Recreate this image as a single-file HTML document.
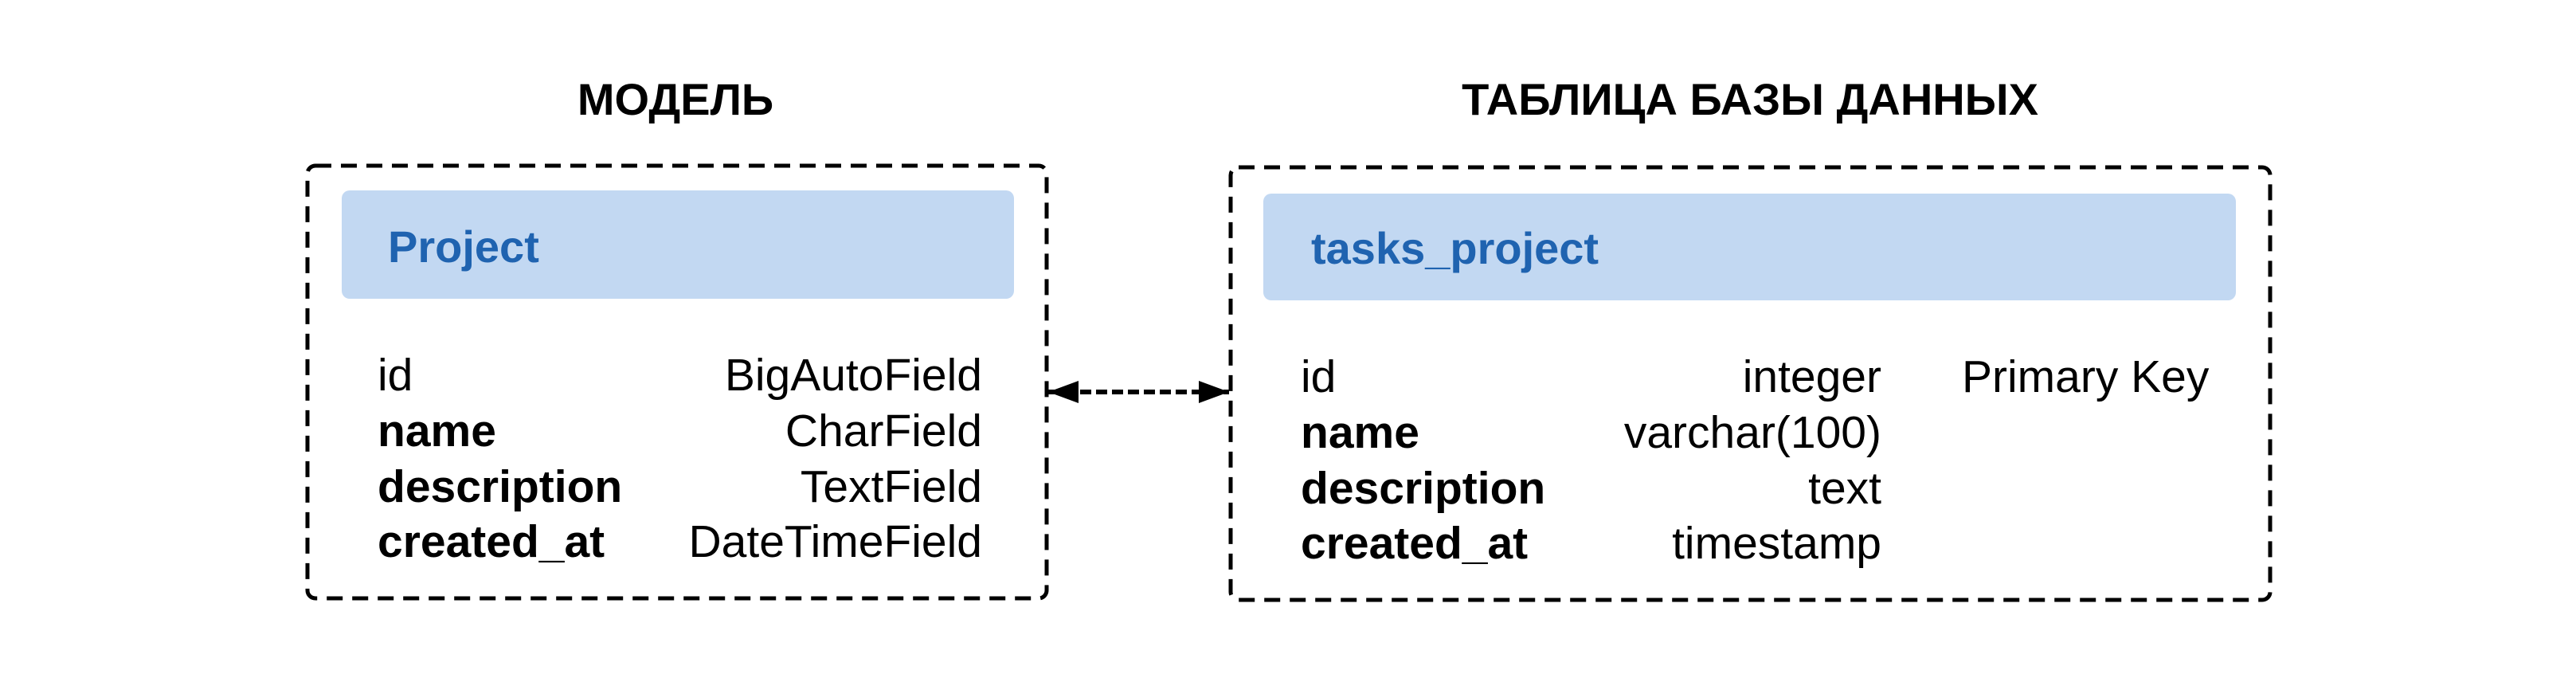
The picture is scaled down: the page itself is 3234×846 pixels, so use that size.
<!DOCTYPE html>
<html><head><meta charset="utf-8"><style>
html,body{margin:0;padding:0;background:#fff;}
svg{display:block;}
text{font-family:"Liberation Sans",sans-serif;}
</style></head><body>
<svg width="3234" height="846" viewBox="0 0 3234 846" xmlns="http://www.w3.org/2000/svg">
<text x="848" y="144" font-size="56" font-weight="bold" text-anchor="middle">МОДЕЛЬ</text>
<text x="2197" y="144" font-size="56" font-weight="bold" text-anchor="middle">ТАБЛИЦА БАЗЫ ДАННЫХ</text>

<rect x="386" y="208" width="928" height="543" rx="10" fill="none" stroke="#000" stroke-width="5" stroke-dasharray="20,12"/>
<rect x="429" y="239" width="844" height="136" rx="10" fill="#c2d8f2"/>
<text x="487" y="329" font-size="56" font-weight="bold" fill="#1f63b0">Project</text>
<g font-size="57">
<text x="474" y="490">id</text>
<text x="474" y="560" font-weight="bold">name</text>
<text x="474" y="630" font-weight="bold">description</text>
<text x="474" y="699" font-weight="bold">created_at</text>
<g text-anchor="end">
<text x="1233" y="490">BigAutoField</text>
<text x="1233" y="560">CharField</text>
<text x="1233" y="630">TextField</text>
<text x="1233" y="699">DateTimeField</text>
</g>
</g>

<rect x="1545" y="210" width="1305" height="543" rx="10" fill="none" stroke="#000" stroke-width="5" stroke-dasharray="20,12"/>
<rect x="1586" y="243" width="1221" height="134" rx="10" fill="#c2d8f2"/>
<text x="1646" y="331" font-size="56" font-weight="bold" fill="#1f63b0">tasks_project</text>
<g font-size="57">
<text x="1633" y="492">id</text>
<text x="1633" y="562" font-weight="bold">name</text>
<text x="1633" y="632" font-weight="bold">description</text>
<text x="1633" y="701" font-weight="bold">created_at</text>
<g text-anchor="end">
<text x="2362" y="492">integer</text>
<text x="2362" y="562">varchar(100)</text>
<text x="2362" y="632">text</text>
<text x="2362" y="701">timestamp</text>
</g>
<text x="2463" y="492">Primary Key</text>
</g>

<line x1="1316" y1="492" x2="1543" y2="492" stroke="#000" stroke-width="6" stroke-dasharray="14,6"/>
<path d="M1316,492 L1354,478 L1354,506 Z" fill="#000"/>
<path d="M1543,492 L1505,478 L1505,506 Z" fill="#000"/>
</svg>
</body></html>
